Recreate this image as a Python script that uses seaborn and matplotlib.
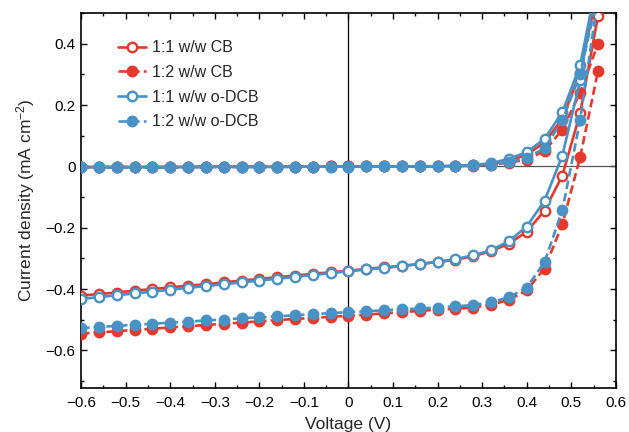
import matplotlib
matplotlib.use("Agg")
import matplotlib.pyplot as plt
from matplotlib.ticker import MultipleLocator, FuncFormatter
import seaborn as sns

# voltage sweep (V)
voltage = [-0.60, -0.56, -0.52, -0.48, -0.44, -0.40, -0.36, -0.32, -0.28, -0.24,
           -0.20, -0.16, -0.12, -0.08, -0.04, 0.00, 0.04, 0.08, 0.12, 0.16,
           0.20, 0.24, 0.28, 0.32, 0.36, 0.40, 0.44, 0.48, 0.52, 0.56]

# illuminated curves (mA cm^-2)
cb11_light = [-0.421, -0.416, -0.411, -0.405, -0.400, -0.394, -0.389, -0.384, -0.378, -0.372,
              -0.367, -0.361, -0.356, -0.350, -0.345, -0.340, -0.334, -0.329, -0.324, -0.318,
              -0.312, -0.304, -0.293, -0.276, -0.252, -0.213, -0.144, -0.030, 0.173, 0.490]
cb12_light = [-0.545, -0.541, -0.537, -0.533, -0.529, -0.525, -0.521, -0.517, -0.513, -0.509,
              -0.505, -0.501, -0.497, -0.494, -0.490, -0.487, -0.483, -0.479, -0.475, -0.471,
              -0.467, -0.464, -0.460, -0.451, -0.435, -0.404, -0.333, -0.189, 0.030, 0.310]
dcb11_light = [-0.432, -0.426, -0.420, -0.414, -0.408, -0.402, -0.396, -0.390, -0.384, -0.378,
               -0.372, -0.366, -0.360, -0.354, -0.348, -0.342, -0.336, -0.331, -0.325, -0.318,
               -0.311, -0.302, -0.290, -0.273, -0.244, -0.196, -0.112, 0.035, 0.280, 0.650]
dcb12_light = [-0.527, -0.523, -0.520, -0.516, -0.513, -0.509, -0.506, -0.502, -0.499, -0.495,
               -0.492, -0.489, -0.485, -0.482, -0.478, -0.475, -0.472, -0.469, -0.466, -0.463,
               -0.460, -0.456, -0.452, -0.442, -0.427, -0.395, -0.312, -0.143, 0.150, 0.550]

# dark curves
cb11_dark = [-0.002, -0.002, -0.002, -0.002, -0.002, -0.002, -0.002, -0.001, -0.001, -0.001,
             -0.001, -0.001, -0.001, -0.001, 0.000, 0.000, 0.000, 0.000, 0.000, 0.000,
             0.000, 0.001, 0.003, 0.008, 0.018, 0.038, 0.078, 0.155, 0.305, 0.580]
cb12_dark = [-0.002, -0.002, -0.002, -0.002, -0.002, -0.002, -0.002, -0.001, -0.001, -0.001,
             -0.001, -0.001, -0.001, -0.001, 0.000, 0.000, 0.000, 0.000, 0.000, 0.000,
             0.000, 0.001, 0.002, 0.006, 0.012, 0.022, 0.050, 0.120, 0.240, 0.400]
dcb11_dark = [-0.003, -0.003, -0.003, -0.003, -0.003, -0.003, -0.002, -0.002, -0.002, -0.002,
              -0.002, -0.002, -0.001, -0.001, -0.001, -0.001, 0.000, 0.000, 0.000, 0.000,
              0.001, 0.002, 0.005, 0.010, 0.025, 0.046, 0.090, 0.176, 0.330, 0.620]
dcb12_dark = [-0.003, -0.003, -0.003, -0.003, -0.003, -0.003, -0.002, -0.002, -0.002, -0.002,
              -0.002, -0.002, -0.001, -0.001, -0.001, -0.001, 0.000, 0.000, 0.000, 0.000,
              0.000, 0.001, 0.003, 0.006, 0.014, 0.027, 0.059, 0.150, 0.300, 0.560]

labels = ["1:1 w/w CB", "1:2 w/w CB", "1:1 w/w o-DCB", "1:2 w/w o-DCB"]

RED = "#e8382c"
BLUE = "#4892c6"

sns.set_style("ticks")
plt.rcParams["font.family"] = ["Liberation Sans", "DejaVu Sans"]
plt.rcParams["mathtext.default"] = "regular"

fig = plt.figure(figsize=(6.29, 4.32), dpi=100)
ax = fig.add_axes([0.129, 0.102, 0.850, 0.868])

ax.axhline(0, color="#555555", lw=0.9, zorder=1)
ax.axvline(0, color="black", lw=0.9, zorder=1)

series = [
    (cb11_dark, cb11_light, labels[0], RED, "-", "white"),
    (cb12_dark, cb12_light, labels[1], RED, (0, (3.2, 1.6)), RED),
    (dcb11_dark, dcb11_light, labels[2], BLUE, "-", "white"),
    (dcb12_dark, dcb12_light, labels[3], BLUE, (0, (3.2, 1.6)), BLUE),
]

for dark, light, lab, col, ls, face in series:
    for ys, name in [(dark, "_nolegend_"), (light, lab)]:
        sns.lineplot(x=voltage, y=ys, ax=ax, color=col, linestyle=ls, lw=1.9,
                     marker="o", markersize=6.8, markerfacecolor=face,
                     markeredgecolor=col, markeredgewidth=1.7, label=name,
                     zorder=3)

ax.set_xlim(-0.6, 0.6)
ax.set_ylim(-0.722, 0.5)
ax.xaxis.set_major_locator(MultipleLocator(0.1))
ax.xaxis.set_minor_locator(MultipleLocator(0.05))
ax.yaxis.set_major_locator(MultipleLocator(0.2))
ax.yaxis.set_minor_locator(MultipleLocator(0.1))


def fmt(v, pos):
    if abs(v) < 1e-9:
        return "0"
    return f"{v:.1f}".replace("-", "\u2212")


ax.xaxis.set_major_formatter(FuncFormatter(fmt))
ax.yaxis.set_major_formatter(FuncFormatter(fmt))
ax.tick_params(which="both", direction="in", top=True, right=True, labelsize=11,
               width=1.0, colors="black")
ax.tick_params(which="major", length=4.5)
ax.tick_params(axis="x", which="major", pad=6)
ax.tick_params(axis="y", which="major", pad=4)
ax.tick_params(which="minor", length=2.5)
for s in ax.spines.values():
    s.set_linewidth(1.2)
    s.set_color("black")

ax.set_xlabel("Voltage (V)", fontsize=12.5, labelpad=5)
ax.set_ylabel("Current density (mA cm$^{-2}$)", fontsize=12.5, labelpad=6)

handles, labs = ax.get_legend_handles_labels()
ax.legend(handles, labs, loc="upper left", bbox_to_anchor=(0.042, 0.965), frameon=False,
          fontsize=11.5, handlelength=1.75, handletextpad=0.4, labelspacing=0.6)

fig.savefig("out.png", dpi=100)
